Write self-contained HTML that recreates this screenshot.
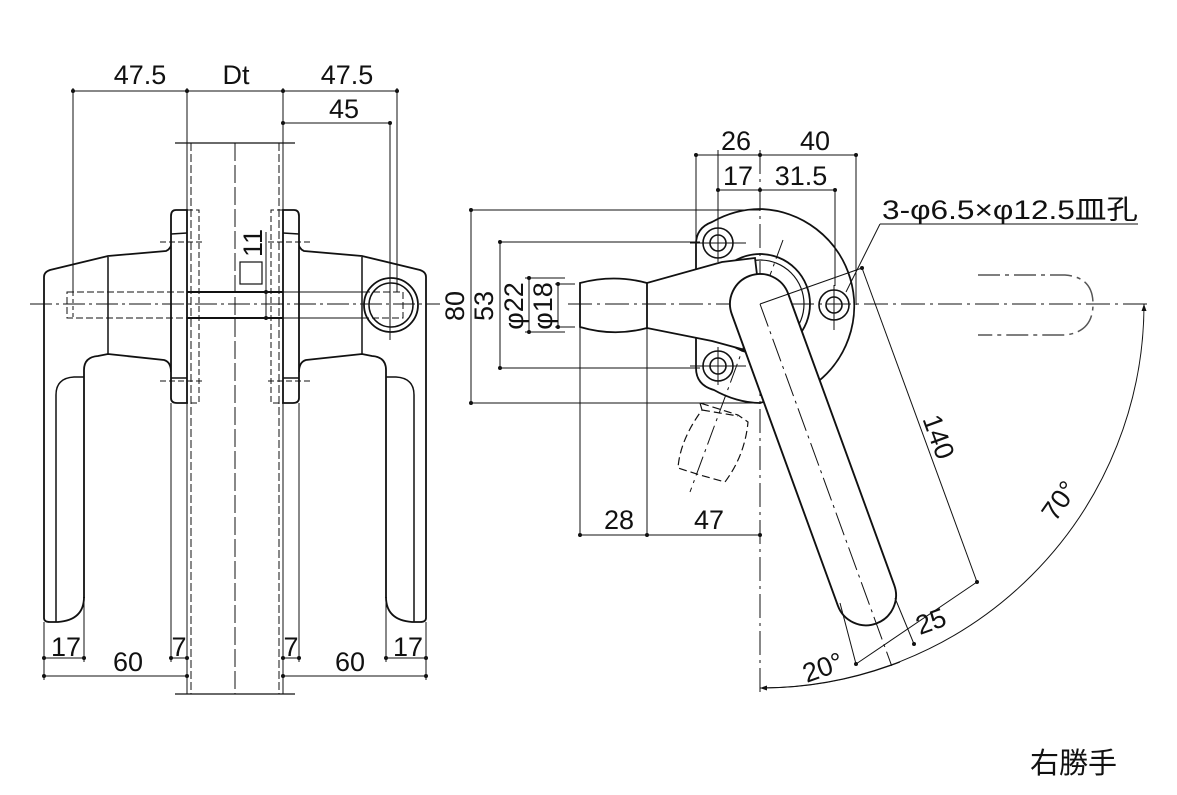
<!DOCTYPE html>
<html><head><meta charset="utf-8"><style>
html,body{margin:0;padding:0;background:#fff;}
svg{display:block;}
text{font-family:"Liberation Sans","Noto Sans CJK JP",sans-serif;fill:#111;}
</style></head><body>
<svg width="1177" height="795" viewBox="0 0 1177 795" xmlns="http://www.w3.org/2000/svg">
<defs>
<marker id="ar" markerWidth="8" markerHeight="8" refX="7" refY="4" orient="auto" markerUnits="userSpaceOnUse"><path d="M0,1.5 L7,4 L0,6.5 Z" fill="#111"/></marker>
</defs>
<g stroke="#111" fill="none">

<line x1="30" y1="304" x2="440" y2="304" stroke-width="1" stroke-dasharray="22,4,3,4"/>
<line x1="235" y1="143" x2="235" y2="694" stroke-width="1" stroke-dasharray="18,4"/>
<line x1="175" y1="143" x2="295" y2="143" stroke-width="1.2"/>
<line x1="175" y1="694" x2="295" y2="694" stroke-width="1.2"/>
<line x1="187" y1="88" x2="187" y2="694" stroke-width="1"/>
<line x1="283" y1="88" x2="283" y2="694" stroke-width="1"/>
<line x1="191" y1="143" x2="191" y2="694" stroke-width="1" stroke-dasharray="8,3"/>
<line x1="279" y1="143" x2="279" y2="694" stroke-width="1" stroke-dasharray="8,3"/>

<g id="lh">
<path d="M44,618 L44,277 Q44,272 50,270 L108,256 L166,251 Q171,249 172,242" stroke-width="1.8" fill="#fff"/>
<line x1="108" y1="257" x2="108" y2="355" stroke-width="1.5"/>
<path d="M84,598 L84,370 Q84,357 98,356 L108,354 L164,360 Q171,362 171,372" stroke-width="1.8"/>
<path d="M56,622 L56,395 Q56,378 74,377 L84,377" stroke-width="1.5"/>
<path d="M44,618 Q44,622 50,622 L58,622 Q84,620 84,597" stroke-width="1.8"/>
<path d="M187,210 L176,210 Q171,210 171,216 L171,398 Q171,403 177,403 L187,403 Z" stroke-width="1.8" fill="#fff"/>
<line x1="171" y1="234" x2="187" y2="233" stroke-width="1.5"/>
<line x1="171" y1="378" x2="187" y2="378" stroke-width="1.5"/>
<rect x="187" y="210" width="12" height="193" stroke-width="1" stroke-dasharray="6,3"/>
<line x1="160" y1="242" x2="202" y2="242" stroke-width="1" stroke-dasharray="6,3"/>
<line x1="160" y1="381" x2="202" y2="381" stroke-width="1" stroke-dasharray="6,3"/>
<rect x="67" y="292" width="120" height="26" stroke-width="1" stroke-dasharray="7,3"/>
<line x1="73" y1="292" x2="73" y2="318" stroke-width="1" stroke-dasharray="4,3"/>
<line x1="171" y1="403" x2="171" y2="662" stroke-width="1"/>
<line x1="84" y1="598" x2="84" y2="662" stroke-width="1"/>
<line x1="44" y1="622" x2="44" y2="680" stroke-width="1"/>
<line x1="73" y1="88" x2="73" y2="292" stroke-width="1"/>
</g>
<use href="#lh" transform="translate(470,0) scale(-1,1)"/>

<line x1="187" y1="292" x2="283" y2="292" stroke-width="2"/>
<line x1="187" y1="318" x2="283" y2="318" stroke-width="2"/>
<circle cx="391" cy="305" r="27" stroke-width="1.8" fill="#fff"/>
<circle cx="391" cy="305" r="22" stroke-width="1.5"/>
<rect x="283" y="292" width="120" height="26" stroke-width="1" stroke-dasharray="7,3"/>
<line x1="30" y1="304" x2="440" y2="304" stroke-width="1" stroke-dasharray="22,4,3,4"/>
<line x1="390" y1="123" x2="390" y2="340" stroke-width="1"/>
<line x1="397" y1="88" x2="397" y2="292" stroke-width="1"/>

<rect x="240" y="262" width="22" height="22" stroke-width="1.2"/>
<line x1="266" y1="232" x2="266" y2="320" stroke-width="1"/>

<line x1="73" y1="91" x2="397" y2="91" stroke-width="1"/>
<line x1="283" y1="123" x2="390" y2="123" stroke-width="1"/>
<line x1="44" y1="658" x2="84" y2="658" stroke-width="1"/>
<line x1="171" y1="658" x2="187" y2="658" stroke-width="1"/>
<line x1="44" y1="676" x2="187" y2="676" stroke-width="1"/>
<line x1="283" y1="658" x2="299" y2="658" stroke-width="1"/>
<line x1="386" y1="658" x2="426" y2="658" stroke-width="1"/>
<line x1="283" y1="676" x2="426" y2="676" stroke-width="1"/>

<path d="M760,209 A97,97 0 0,1 812,386 L760,403 C745,403 728,398 714,390 Q696,385 696,368 L696,244 Q696,228 712,222 C728,213 745,209 760,209 Z" stroke-width="1.8" fill="#fff"/>
<circle cx="760" cy="304" r="50" stroke-width="1.8"/>
<circle cx="760" cy="304" r="44" stroke-width="1.2"/>
<g stroke-width="1.6">
<circle cx="718" cy="243" r="15"/><circle cx="718" cy="243" r="8"/>
<circle cx="718" cy="366" r="15"/><circle cx="718" cy="366" r="8"/>
<circle cx="834" cy="305" r="15"/><circle cx="834" cy="305" r="8"/>
</g>
<g stroke-width="1">
<line x1="690" y1="243" x2="746" y2="243"/><line x1="718" y1="150" x2="718" y2="262"/>
<line x1="690" y1="366" x2="746" y2="366"/><line x1="718" y1="347" x2="718" y2="385"/>
<line x1="834" y1="285" x2="834" y2="330"/>
</g>
<path d="M580,283 Q614,274 647,283 L722,262 L755,258 L760,300 L745,350 L712,341 L647,328 Q614,337 580,327 Z" stroke-width="1.8" fill="#fff"/>
<line x1="647" y1="283" x2="647" y2="328" stroke-width="1.8"/>
<g stroke-width="1.2" stroke-dasharray="8,4">
<path d="M700,403 L702,410 Q680,440 678,468 L700,475 L725,482 Q745,455 748,422 L738,415 Z"/>
<line x1="702" y1="410" x2="738" y2="416"/>
</g>
<line x1="568" y1="304" x2="1150" y2="304" stroke-width="1" stroke-dasharray="24,5,3,5"/>
<line x1="760" y1="150" x2="760" y2="692" stroke-width="1" stroke-dasharray="24,5,3,5"/>
<line x1="783" y1="240" x2="690" y2="492" stroke-width="1" stroke-dasharray="20,5,3,5"/>
<g transform="translate(760,304) rotate(-20)">
<path d="M-30,0 A30,30 0 0,1 30,0 L30,310 A30,30 0 0,1 -30,310 Z" stroke-width="1.9" fill="#fff"/>
<line x1="0" y1="0" x2="0" y2="385" stroke-width="1" stroke-dasharray="24,5,3,5"/>
</g>
<path d="M978,275 L1065,275 Q1093,277 1093,304 Q1093,332 1065,335 L978,335" stroke-width="1.5" stroke="#555" stroke-dasharray="22,5,4,5"/>
<g stroke-width="1">
<line x1="760" y1="304" x2="862" y2="268"/>
<line x1="862" y1="268" x2="977" y2="582"/>
<line x1="977" y1="582" x2="856" y2="664"/>
<line x1="840" y1="603" x2="856" y2="664"/>
<line x1="895" y1="598" x2="914" y2="644"/>
<line x1="846" y1="292" x2="880" y2="224"/>
<line x1="880" y1="224" x2="1138" y2="224"/>
<path d="M760,688 A384,384 0 0,0 1144,304" marker-end="url(#ar)"/>
<path d="M900,662 A384,384 0 0,1 760,688" marker-end="url(#ar)"/>
</g>
<g stroke-width="1">
<line x1="696" y1="155" x2="856" y2="155"/>
<line x1="696" y1="155" x2="696" y2="244"/>
<line x1="856" y1="155" x2="856" y2="305"/>
<line x1="718" y1="190" x2="835" y2="190"/>
<line x1="835" y1="190" x2="835" y2="286"/>
<line x1="471" y1="210" x2="760" y2="210"/>
<line x1="471" y1="403" x2="760" y2="403"/>
<line x1="471" y1="210" x2="471" y2="403"/>
<line x1="500" y1="242" x2="700" y2="242"/>
<line x1="500" y1="368" x2="700" y2="368"/>
<line x1="500" y1="242" x2="500" y2="368"/>
<line x1="525" y1="278" x2="565" y2="278"/>
<line x1="525" y1="332" x2="565" y2="332"/>
<line x1="529" y1="278" x2="529" y2="332"/>
<line x1="555" y1="284" x2="575" y2="284"/>
<line x1="555" y1="327" x2="575" y2="327"/>
<line x1="558" y1="284" x2="558" y2="327"/>
<line x1="580" y1="327" x2="580" y2="537"/>
<line x1="647" y1="328" x2="647" y2="537"/>
<line x1="580" y1="535" x2="760" y2="535"/>
</g>
</g>
<g fill="#111">
<circle cx="73" cy="91" r="2"/><circle cx="187" cy="91" r="2"/><circle cx="283" cy="91" r="2"/><circle cx="397" cy="91" r="2"/>
<circle cx="283" cy="123" r="2"/><circle cx="390" cy="123" r="2"/>
<circle cx="266" cy="292" r="2"/><circle cx="266" cy="318" r="2"/>
<circle cx="44" cy="658" r="2"/><circle cx="84" cy="658" r="2"/><circle cx="171" cy="658" r="2"/><circle cx="187" cy="658" r="2"/>
<circle cx="44" cy="676" r="2"/><circle cx="187" cy="676" r="2"/>
<circle cx="283" cy="658" r="2"/><circle cx="299" cy="658" r="2"/><circle cx="386" cy="658" r="2"/><circle cx="426" cy="658" r="2"/>
<circle cx="283" cy="676" r="2"/><circle cx="426" cy="676" r="2"/>
<circle cx="696" cy="155" r="2"/><circle cx="760" cy="155" r="2"/><circle cx="856" cy="155" r="2"/>
<circle cx="718" cy="190" r="2"/><circle cx="760" cy="190" r="2"/><circle cx="835" cy="190" r="2"/>
<circle cx="471" cy="210" r="2"/><circle cx="471" cy="403" r="2"/><circle cx="500" cy="242" r="2"/><circle cx="500" cy="368" r="2"/>
<circle cx="529" cy="278" r="2"/><circle cx="529" cy="332" r="2"/><circle cx="558" cy="284" r="2"/><circle cx="558" cy="327" r="2"/>
<circle cx="580" cy="535" r="2"/><circle cx="647" cy="535" r="2"/><circle cx="760" cy="535" r="2"/>
<circle cx="862" cy="268" r="2"/><circle cx="977" cy="582" r="2"/><circle cx="914" cy="644" r="2"/><circle cx="856" cy="664" r="2"/>
</g>

<g font-size="27">
<text x="140" y="84" text-anchor="middle">47.5</text>
<text x="236" y="84" text-anchor="middle">Dt</text>
<text x="347" y="84" text-anchor="middle">47.5</text>
<text x="344" y="118" text-anchor="middle">45</text>
<text transform="translate(262,243) rotate(-90)" text-anchor="middle">11</text>
<text x="66" y="656" text-anchor="middle">17</text>
<text x="128" y="671" text-anchor="middle">60</text>
<text x="179" y="656" text-anchor="middle">7</text>
<text x="291" y="656" text-anchor="middle">7</text>
<text x="350" y="671" text-anchor="middle">60</text>
<text x="408" y="656" text-anchor="middle">17</text>
<text x="736" y="150" text-anchor="middle">26</text>
<text x="815" y="150" text-anchor="middle">40</text>
<text x="738" y="185" text-anchor="middle">17</text>
<text x="801" y="185" text-anchor="middle">31.5</text>
<text transform="translate(464,306) rotate(-90)" text-anchor="middle">80</text>
<text transform="translate(493,306) rotate(-90)" text-anchor="middle">53</text>
<text transform="translate(523,306) rotate(-90)" text-anchor="middle">φ22</text>
<text transform="translate(552,306) rotate(-90)" text-anchor="middle">φ18</text>
<text x="619" y="529" text-anchor="middle">28</text>
<text x="709" y="529" text-anchor="middle">47</text>
<text transform="translate(930,440) rotate(70)" text-anchor="middle">140</text>
<text transform="translate(934,630) rotate(-20)" text-anchor="middle">25</text>
<text transform="translate(826,676) rotate(-20)" text-anchor="middle">20°</text>
<text transform="translate(1067,506) rotate(-55)" text-anchor="middle">70°</text>
<text x="882" y="219" textLength="256" lengthAdjust="spacingAndGlyphs">3-φ6.5×φ12.5皿孔</text>
<text x="1030" y="773" font-size="29">右勝手</text>
</g>
</svg>
</body></html>
